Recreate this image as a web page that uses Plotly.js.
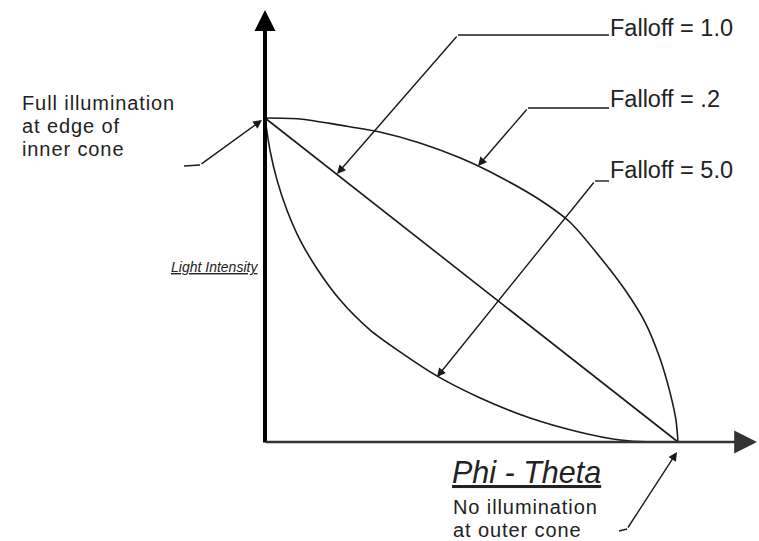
<!DOCTYPE html>
<html>
<head>
<meta charset="utf-8">
<script src="https://cdn.plot.ly/plotly-3.0.1.min.js"></script>
<style>
html,body{margin:0;padding:0;background:#fff;}
#chart{width:759px;height:541px;}
</style>
</head>
<body>
<div id="chart"></div>
<script>
// ---- data (x = normalized Phi - Theta, y = normalized light intensity) ----
const falloff10_x = [0, 1];
const falloff10_y = [1, 0];

const falloff02_x = [0, 0.085, 0.182, 0.278, 0.375, 0.472, 0.569, 0.666, 0.738, 0.811, 0.872, 0.920, 0.956, 0.981, 0.995, 1];
const falloff02_y = [1, 0.997, 0.978, 0.957, 0.923, 0.877, 0.818, 0.747, 0.679, 0.571, 0.469, 0.370, 0.259, 0.151, 0.068, 0];

const falloff50_x = [0, 0.012, 0.029, 0.053, 0.085, 0.128, 0.182, 0.254, 0.327, 0.416, 0.521, 0.642, 0.760, 0.860, 0.932, 1];
const falloff50_y = [1, 0.901, 0.809, 0.716, 0.623, 0.531, 0.438, 0.346, 0.278, 0.204, 0.136, 0.074, 0.031, 0.006, 0.0, 0];

const seriesLabels = ['Falloff = 1.0', 'Falloff = .2', 'Falloff = 5.0'];
const xAxisLabel = 'Phi - Theta';
const yAxisLabel = 'Light Intensity';
const innerNote = ['Full illumination', 'at edge of', 'inner cone'];
const outerNote = ['No illumination', 'at outer cone'];

// ---- layout helpers (pixel -> paper / data) ----
const W = 759, H = 541;
const OX = 265, OY = 442, SX = 413, SY = 324;
const pxX = p => p / W;
const pxY = p => 1 - p / H;
const dX = p => (p - OX) / SX;
const dY = p => (OY - p) / SY;

const FONT = 'Liberation Sans, Arial, sans-serif';
const TXT = '#222';
const LINE = '#1a1a1a';

const curve = (x, y) => ({
  x: x, y: y, type: 'scatter', mode: 'lines',
  line: {color: LINE, width: 1.6, shape: 'spline', smoothing: 0.8},
  hoverinfo: 'skip', showlegend: false
});

const traces = [
  curve(falloff10_x, falloff10_y),
  curve(falloff02_x, falloff02_y),
  curve(falloff50_x, falloff50_y)
];

const annotations = [];
function label(text, x, y, size, anchor, extra) {
  annotations.push(Object.assign({
    text: text, xref: 'paper', yref: 'paper', x: pxX(x), y: pxY(y),
    xanchor: anchor || 'left', yanchor: 'middle', showarrow: false, borderpad: 0,
    font: {family: FONT, size: size, color: TXT}
  }, extra || {}));
}
const spaced = t => '<span style="letter-spacing:0.9px">' + t + '</span>';
function arrow(tx, ty, hx, hy, opts) {
  annotations.push(Object.assign({
    text: '', x: dX(hx), y: dY(hy), ax: dX(tx), ay: dY(ty),
    xref: 'x', yref: 'y', axref: 'x', ayref: 'y', showarrow: true,
    arrowhead: 2, arrowsize: 1.25, arrowwidth: 1.4, arrowcolor: LINE, standoff: 0
  }, opts || {}));
}

// axes with arrowheads
arrow(OX, OY + 2, OX, 10, {arrowwidth: 4, arrowsize: 1.05, arrowcolor: '#000'});
arrow(OX - 1, OY, 757, OY, {arrowwidth: 2.4, arrowsize: 1.9, arrowcolor: '#333'});

// series labels with leader lines
label(seriesLabels[0], 609, 28, 23.5);
label(seriesLabels[1], 609, 99, 23.5);
label(seriesLabels[2], 609, 170, 23.5);
arrow(458, 35, 337, 174);
arrow(528, 108, 478, 166);
arrow(595, 181, 437, 377);

// notes
label(spaced(innerNote[0]), 21, 103.5, 20);
label(spaced(innerNote[1]), 21, 126, 20);
label(spaced(innerNote[2]), 21, 148.5, 20);
arrow(200, 165, 262, 120);

label(spaced(outerNote[0]), 452, 507, 20);
label(spaced(outerNote[1]), 452, 529.5, 20);
arrow(627, 529, 677, 452);

// axis titles
label('<i><u>' + yAxisLabel + '</u></i>', 259, 267, 14, 'right');
label('<i><u>' + xAxisLabel + '</u></i>', 451, 472, 30.5);

const shapes = [];
function seg(x0, y0, x1, y1) {
  shapes.push({type: 'line', xref: 'paper', yref: 'paper',
    x0: pxX(x0), y0: pxY(y0), x1: pxX(x1), y1: pxY(y1),
    line: {color: LINE, width: 1.4}});
}
seg(458, 35, 609, 35);
seg(528, 108, 609, 108);
seg(595, 181, 609, 181);
seg(184, 166, 200, 165);
seg(619, 531, 627, 529);

const layout = {
  width: W, height: H,
  margin: {l: 0, r: 0, t: 0, b: 0, pad: 0},
  paper_bgcolor: '#fff', plot_bgcolor: '#fff',
  showlegend: false,
  xaxis: {range: [dX(0), dX(W)], visible: false, fixedrange: true},
  yaxis: {range: [dY(H), dY(0)], visible: false, fixedrange: true},
  annotations: annotations,
  shapes: shapes
};

Plotly.newPlot('chart', traces, layout, {displayModeBar: false, staticPlot: true});
</script>
</body>
</html>
